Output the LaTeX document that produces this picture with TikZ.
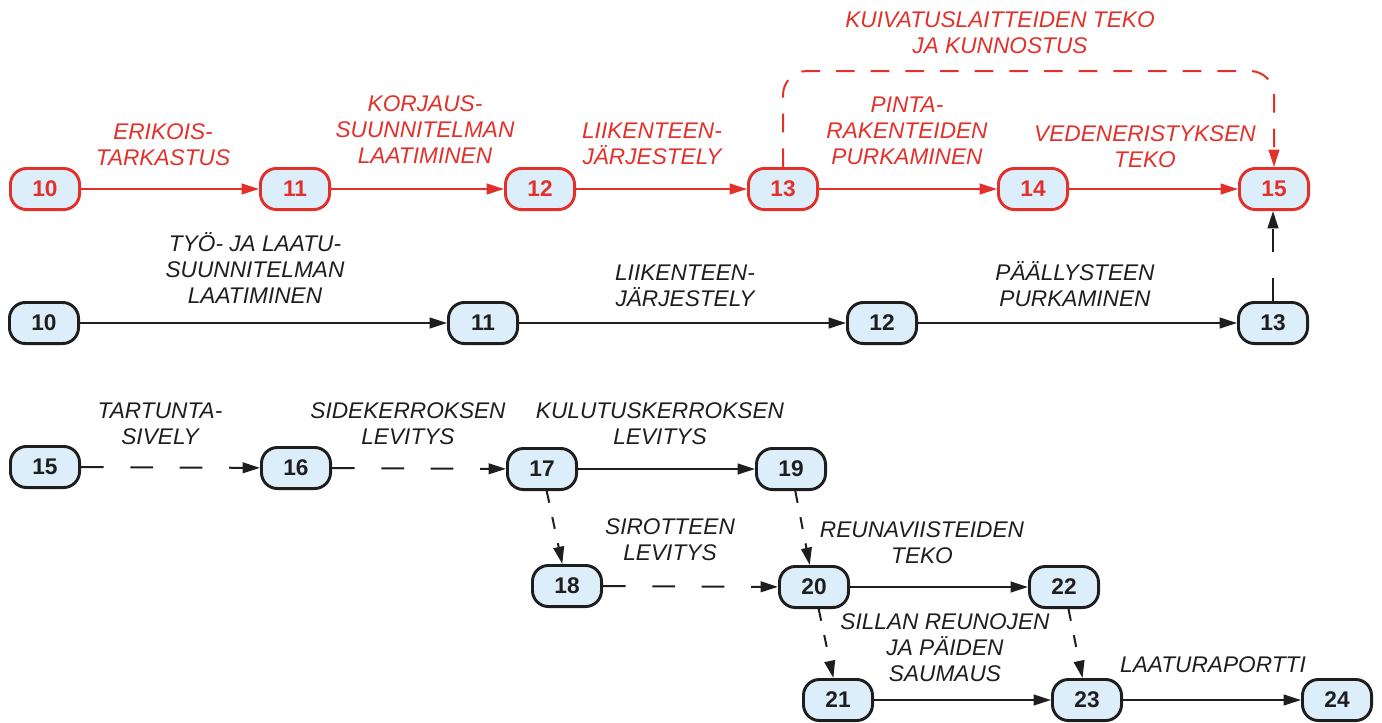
\documentclass[tikz,border=0pt]{standalone}
\usepackage{fontspec}
\setmainfont{Liberation Sans}[ItalicFont={Liberation Sans Italic}, BoldFont={Liberation Sans Bold}]
\usepackage{tikz}
\usetikzlibrary{arrows.meta}

\definecolor{netred}{HTML}{E2302A}
\definecolor{netfill}{HTML}{DCEEF9}
\definecolor{netink}{HTML}{1E1E1E}

\tikzset{
  event/.style={draw, line width=2.2pt, rounded corners=12pt, fill=netfill,
    minimum width=51.8pt, minimum height=30.8pt, inner sep=0pt,
    font=\fontsize{17}{17}\selectfont\bfseries},
  red_event/.style={event, draw=netred, text=netred},
  blk_event/.style={event, draw=netink, text=netink},
  act/.style={line width=1.5pt, -{Triangle[length=13pt,width=8pt]}},
  longdash/.style={dash pattern=on 17pt off 20pt},
  shortdash/.style={dash pattern=on 9pt off 11pt},
  reddash/.style={dash pattern=on 14pt off 12pt},
  lbl/.style={align=center, font=\fontsize{17}{19.5}\selectfont\itshape},
}

\begin{document}
\begin{tikzpicture}[x=0.75pt, y=-0.75pt]
\useasboundingbox (0,0) rectangle (1382,722);

% --- korjaus (red row)
\node[red_event] (r10) at (45,189)   {10};
\node[red_event] (r11) at (295,189)  {11};
\node[red_event] (r12) at (540,189)  {12};
\node[red_event] (r13) at (783,189)  {13};
\node[red_event] (r14) at (1033,189) {14};
\node[red_event] (r15) at (1274,189) {15};
\coordinate (dry_top) at (1030,71);

\draw[act, netred] (r10) -- (r11);
\draw[act, netred] (r11) -- (r12);
\draw[act, netred] (r12) -- (r13);
\draw[act, netred] (r13) -- (r14);
\draw[act, netred] (r14) -- (r15);
\draw[act, netred, reddash, rounded corners=18pt] (r13.north) |- (dry_top) -| (r15.north);

\node[lbl, text=netred] (t_erik) at (163,145)  {ERIKOIS-\\TARKASTUS};
\node[lbl, text=netred] (t_korj) at (425,130)  {KORJAUS-\\SUUNNITELMAN\\LAATIMINEN};
\node[lbl, text=netred] (t_liik) at (652,144)  {LIIKENTEEN-\\JÄRJESTELY};
\node[lbl, text=netred] (t_pint) at (907,131)  {PINTA-\\RAKENTEIDEN\\PURKAMINEN};
\node[lbl, text=netred] (t_vede) at (1145,147) {VEDENERISTYKSEN\\TEKO};
\node[lbl, text=netred] (t_kuiv) at (1000,33)  {KUIVATUSLAITTEIDEN TEKO\\JA KUNNOSTUS};

% --- paallysteen purku (black row)
\node[blk_event] (b10) at (44,323)   {10};
\node[blk_event] (b11) at (483,323)  {11};
\node[blk_event] (b12) at (882,323)  {12};
\node[blk_event] (b13) at (1273,323) {13};

\draw[act, netink] (b10) -- (b11);
\draw[act, netink] (b11) -- (b12);
\draw[act, netink] (b12) -- (b13);
\draw[act, netink, longdash] (b13) -- (b13 |- r15.south);

\node[lbl, text=netink] (t_tyo)  at (255,268)  {TYÖ- JA LAATU-\\SUUNNITELMAN\\LAATIMINEN};
\node[lbl, text=netink] (t_liik2) at (685,286) {LIIKENTEEN-\\JÄRJESTELY};
\node[lbl, text=netink] (t_paal) at (1075,284) {PÄÄLLYSTEEN\\PURKAMINEN};

% --- paallystys
\node[blk_event] (l15) at (45,467)   {15};
\node[blk_event] (l16) at (296,468)  {16};
\node[blk_event] (l17) at (542,469)  {17};
\node[blk_event] (l19) at (791,469)  {19};
\node[blk_event] (l18) at (567,586)  {18};
\node[blk_event] (l20) at (814,587)  {20};
\node[blk_event] (l22) at (1064,587) {22};
\node[blk_event] (l21) at (838,700)  {21};
\node[blk_event] (l23) at (1087,700) {23};
\node[blk_event] (l24) at (1337,700) {24};

\draw[act, netink, longdash] (l15) -- (l16);
\draw[act, netink, longdash] (l16) -- (l17);
\draw[act, netink] (l17) -- (l19);
\draw[act, netink, shortdash] (l17) -- (l18);
\draw[act, netink, shortdash] (l19) -- (l20);
\draw[act, netink, longdash] (l18) -- (l20);
\draw[act, netink] (l20) -- (l22);
\draw[act, netink, shortdash] (l20) -- (l21);
\draw[act, netink, shortdash] (l22) -- (l23);
\draw[act, netink] (l21) -- (l23);
\draw[act, netink] (l23) -- (l24);

\node[lbl, text=netink] (t_tart) at (160,424)  {TARTUNTA-\\SIVELY};
\node[lbl, text=netink] (t_side) at (408,424)  {SIDEKERROKSEN\\LEVITYS};
\node[lbl, text=netink] (t_kulu) at (660,424)  {KULUTUSKERROKSEN\\LEVITYS};
\node[lbl, text=netink] (t_siro) at (670,540)  {SIROTTEEN\\LEVITYS};
\node[lbl, text=netink] (t_reun) at (922,543)  {REUNAVIISTEIDEN\\TEKO};
\node[lbl, text=netink] (t_sill) at (945,648)  {SILLAN REUNOJEN\\JA PÄIDEN\\SAUMAUS};
\node[lbl, text=netink] (t_laat) at (1213,665) {LAATURAPORTTI};
\end{tikzpicture}
\end{document}
